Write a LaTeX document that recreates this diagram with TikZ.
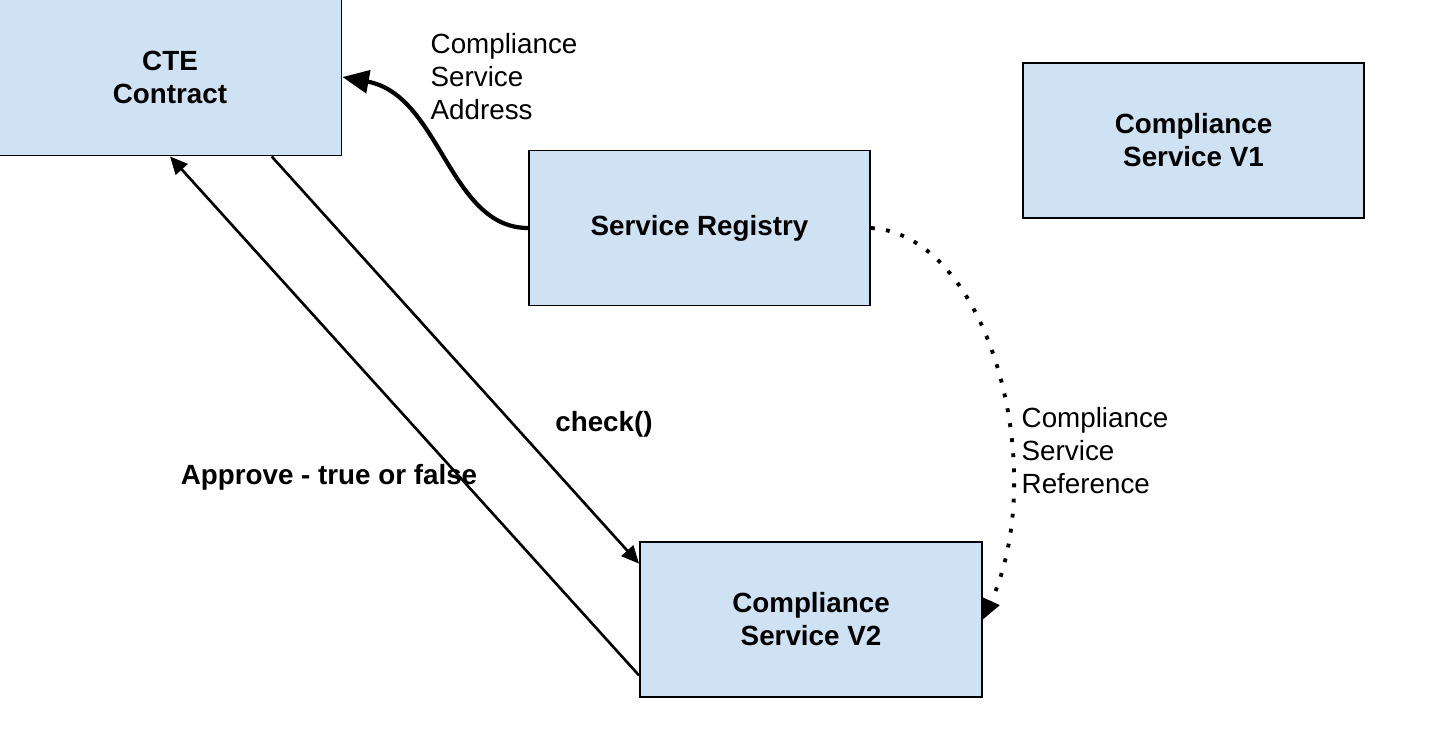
\documentclass[tikz,border=0pt]{standalone}
\usepackage{fontspec}
\setmainfont{Liberation Sans}
\usetikzlibrary{arrows.meta}
\definecolor{boxblue}{HTML}{CFE2F3}

\begin{document}
\begin{tikzpicture}[x=0.01cm, y=-0.01cm,
  font=\fontsize{7.9}{9.4}\selectfont,
  box/.style={rectangle, draw, line width=0.5pt, fill=boxblue, minimum width=3.41cm,
    minimum height=1.55cm, align=center, font=\fontsize{7.9}{9.4}\selectfont\bfseries},
  note/.style={inner sep=0pt, align=left},
  >={Triangle[length=5pt,width=4.5pt]}]
\useasboundingbox (0,0) rectangle (1451,733);

\node[box, minimum width=3.43cm, minimum height=1.57cm] (cte) at (170,77) {CTE\\Contract};
\node[box] (registry) at (699.5,228) {Service Registry};
\node[box] (v1) at (1193.5,140.5) {Compliance\\Service V1};
\node[box, minimum width=3.42cm] (v2) at (811,619.5) {Compliance\\Service V2};

\node[note, anchor=west] (address) at (430,77) {Compliance\\Service\\Address};
\node[note, anchor=west] (reference) at (1021,451) {Compliance\\Service\\Reference};
\node[note, font=\fontsize{7.9}{9.4}\selectfont\bfseries] (check) at (604,424) {check()};
\node[note, font=\fontsize{7.9}{9.4}\selectfont\bfseries] (approve) at (329,477) {Approve - true or false};

\draw[->, line width=1.2pt, >={Triangle[length=7.5pt,width=6.5pt]}]
  (registry.west) .. controls +(-79,0) and +(98,18) .. (cte.east);
\draw[->, line width=0.75pt] (cte.-38.5) -- (v2.162.6);
\draw[<-, line width=0.75pt] (cte.south) -- (v2.198);
\draw[->, line width=1.1pt, dash pattern=on 1.1pt off 3.2pt, >={Triangle[length=5.7pt,width=5pt]}]
  (registry.east) .. controls +(118,7) and +(68,-149.5) .. (v2.east);
\end{tikzpicture}
\end{document}
